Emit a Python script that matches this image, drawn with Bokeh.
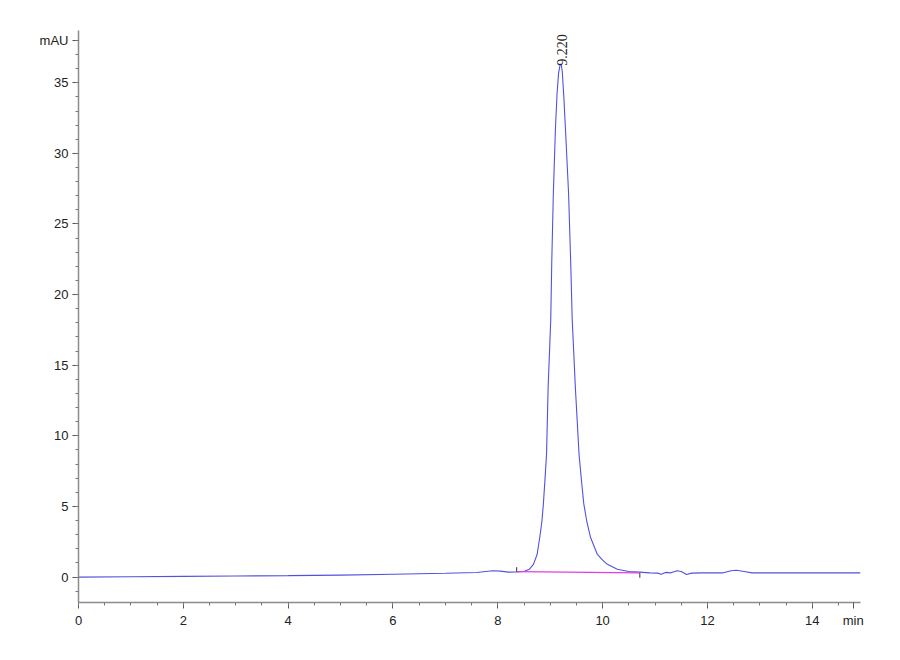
from bokeh.plotting import figure
from bokeh.models import FixedTicker, Range1d
from bokeh.embed import file_html
from bokeh.resources import INLINE

# chromatogram trace (min, mAU)
time_min = [0, 1, 2, 3, 4, 5, 6, 7, 7.6, 7.9, 8.05, 8.2, 8.35, 8.5, 8.6, 8.68,
            8.75, 8.80, 8.84, 8.87, 8.90, 8.93, 8.96, 9.01, 9.03, 9.06, 9.10,
            9.13, 9.16, 9.19, 9.21, 9.23, 9.26, 9.29, 9.32, 9.35, 9.39, 9.42,
            9.48, 9.55, 9.60, 9.64, 9.70, 9.77, 9.90, 10.0, 10.09, 10.28, 10.5,
            10.7, 10.9, 11.05, 11.12, 11.2, 11.3, 11.42, 11.5, 11.6, 11.7,
            11.9, 12.3, 12.45, 12.55, 12.7, 12.85, 13.0, 14, 14.92]
signal_mau = [0.0, 0.02, 0.05, 0.08, 0.1, 0.14, 0.2, 0.27, 0.32, 0.45, 0.42,
              0.35, 0.36, 0.4, 0.55, 0.9, 1.6, 2.8, 3.9, 5.2, 6.9, 8.7, 13.4,
              18.2, 22.4, 27.2, 31.8, 34.2, 35.7, 36.3, 36.3, 35.8, 34.0, 31.8,
              29.5, 27.2, 22.4, 18.2, 13.4, 8.7, 6.7, 5.2, 3.9, 2.8, 1.6, 1.2,
              0.9, 0.55, 0.4, 0.35, 0.3, 0.28, 0.2, 0.33, 0.3, 0.45, 0.4, 0.18,
              0.28, 0.3, 0.3, 0.45, 0.48, 0.4, 0.3, 0.3, 0.3, 0.3]

# integration baseline and its start / end markers
base_x = [8.36, 10.71]
base_y = [0.38, 0.3]
mark_y0 = [0.38, 0.3]
mark_y1 = [0.7, -0.05]

peak_time = [9.22]
peak_top = [36.2]
peak_text = ["9.220"]

y_major = [0, 5, 10, 15, 20, 25, 30, 35, 38]
x_major = [0, 2, 4, 6, 8, 10, 12, 14, 14.78]

FONT = "Liberation Sans"

p = figure(width=880, height=640, output_backend="svg", toolbar_location=None,
           x_range=Range1d(0, 14.92), y_range=Range1d(-1.8, 38.7),
           min_border_left=78, min_border_right=20, min_border_top=30,
           min_border_bottom=38)
p.outline_line_color = None
p.xgrid.visible = False
p.ygrid.visible = False

p.line(time_min, signal_mau, line_color="#5252e0", line_width=1.1)
p.line(base_x, base_y, line_color="#e23de2", line_width=1.3)
p.segment(x0=base_x, y0=mark_y0, x1=base_x, y1=mark_y1, line_color="#333333",
          line_width=1)
p.text(x=peak_time, y=peak_top, text=peak_text, angle=1.5708,
       text_align="left", text_baseline="middle", text_font_size="14px",
       text_color="#222222", text_font="Liberation Sans")

p.yaxis.ticker = FixedTicker(ticks=y_major, minor_ticks=list(range(-1, 39)))
p.yaxis.major_label_overrides = {38: "mAU"}
p.xaxis.ticker = FixedTicker(ticks=x_major,
                             minor_ticks=[i * 0.5 for i in range(0, 30)])
p.xaxis.major_label_overrides = {14.78: "min"}

for ax in (p.xaxis[0], p.yaxis[0]):
    ax.axis_line_color = "#8c8c8c"
    ax.axis_line_width = 1.5
    ax.major_tick_line_color = "#555555"
    ax.minor_tick_line_color = "#777777"
    ax.major_tick_out = 6
    ax.major_tick_in = 0
    ax.minor_tick_out = 3
    ax.minor_tick_in = 0
    ax.major_label_standoff = 4
    ax.major_label_text_font = FONT
    ax.major_label_text_font_size = "13px"
    ax.major_label_text_color = "#222222"

open("out.html", "w").write(file_html(p, INLINE))
